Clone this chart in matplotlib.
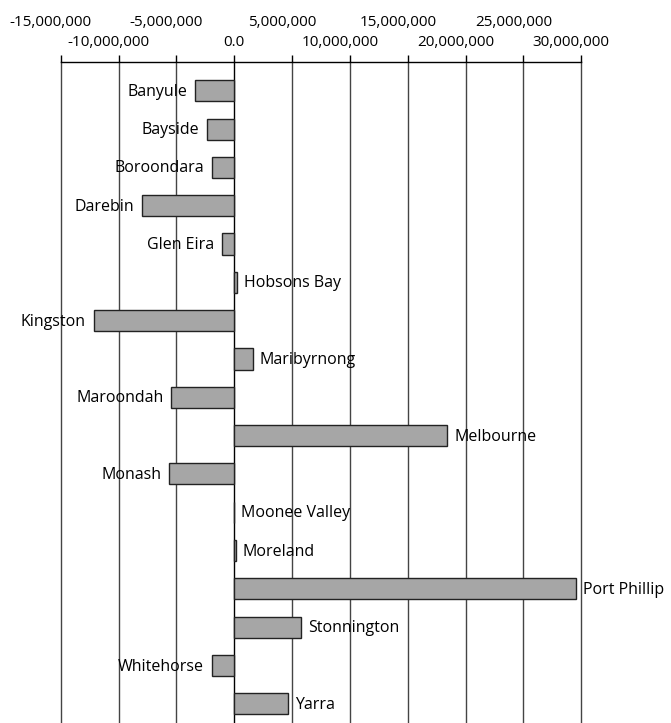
import matplotlib.pyplot as plt
from matplotlib.ticker import FixedLocator

councils = ['Banyule', 'Bayside', 'Boroondara', 'Darebin', 'Glen Eira', 'Hobsons Bay',
            'Kingston', 'Maribyrnong', 'Maroondah', 'Melbourne', 'Monash', 'Moonee Valley',
            'Moreland', 'Port Phillip', 'Stonnington', 'Whitehorse', 'Yarra']
values = [-3400000, -2330000, -1930000, -7950000, -1040000, 250000,
          -12130000, 1590000, -5440000, 18400000, -5600000, 0,
          150000, 29500000, 5740000, -1930000, 4670000]
ticks = [-15000000, -10000000, -5000000, 0, 5000000, 10000000, 15000000,
         20000000, 25000000, 30000000]
tick_labels = ['-15,000,000', '-10,000,000', '-5,000,000', '0.0', '5,000,000',
               '10,000,000', '15,000,000', '20,000,000', '25,000,000', '30,000,000']

plt.rcParams['font.family'] = ['Open Sans', 'DejaVu Sans']

W, H = 671, 723
fig = plt.figure(figsize=(W / 100, H / 100), dpi=100)
# axes from x=60.7..581.3 px, y=62..723 px
ax = fig.add_axes([60.7 / W, 0, (581.3 - 60.7) / W, (723 - 62) / H])

ypos = list(range(len(councils)))
ax.barh(ypos, values, height=0.55, color='#a6a6a6', edgecolor='#222222',
        linewidth=1.0, zorder=3)

for y, name, v in zip(ypos, councils, values):
    if v < 0:
        ax.annotate(name, (v, y), xytext=(-8, -1), textcoords='offset pixels',
                    ha='right', va='center', fontsize=11.5, zorder=4)
    else:
        ax.annotate(name, (v, y), xytext=(7, -1), textcoords='offset pixels',
                    ha='left', va='center', fontsize=11.5, zorder=4)

ax.set_xlim(-15000000, 30000000)
ax.set_ylim(16.5, -0.75)
ax.xaxis.set_major_locator(FixedLocator(ticks))
ax.xaxis.tick_top()
ax.set_xticklabels([])
ax.tick_params(axis='x', direction='out', length=5, width=1, color='black')
ax.set_yticks([])
for t in ticks:
    ax.axvline(t, color='black' if t == 0 else '#444444', linewidth=1,
               zorder=1, clip_on=False)

for s in ['left', 'right', 'bottom']:
    ax.spines[s].set_visible(False)
ax.spines['top'].set_linewidth(1)

# staggered tick labels on two rows
for i, (t, lab) in enumerate(zip(ticks, tick_labels)):
    ypix = 22 if i % 2 == 0 else 42
    xfig = (60.7 + (t + 15000000) / 45000000 * (581.3 - 60.7)) / W
    if lab != '0.0':
        xfig -= 10 / W
    fig.text(xfig, 1 - ypix / H, lab, ha='center', va='center', fontsize=11)

fig.savefig('out.png', dpi=100)
